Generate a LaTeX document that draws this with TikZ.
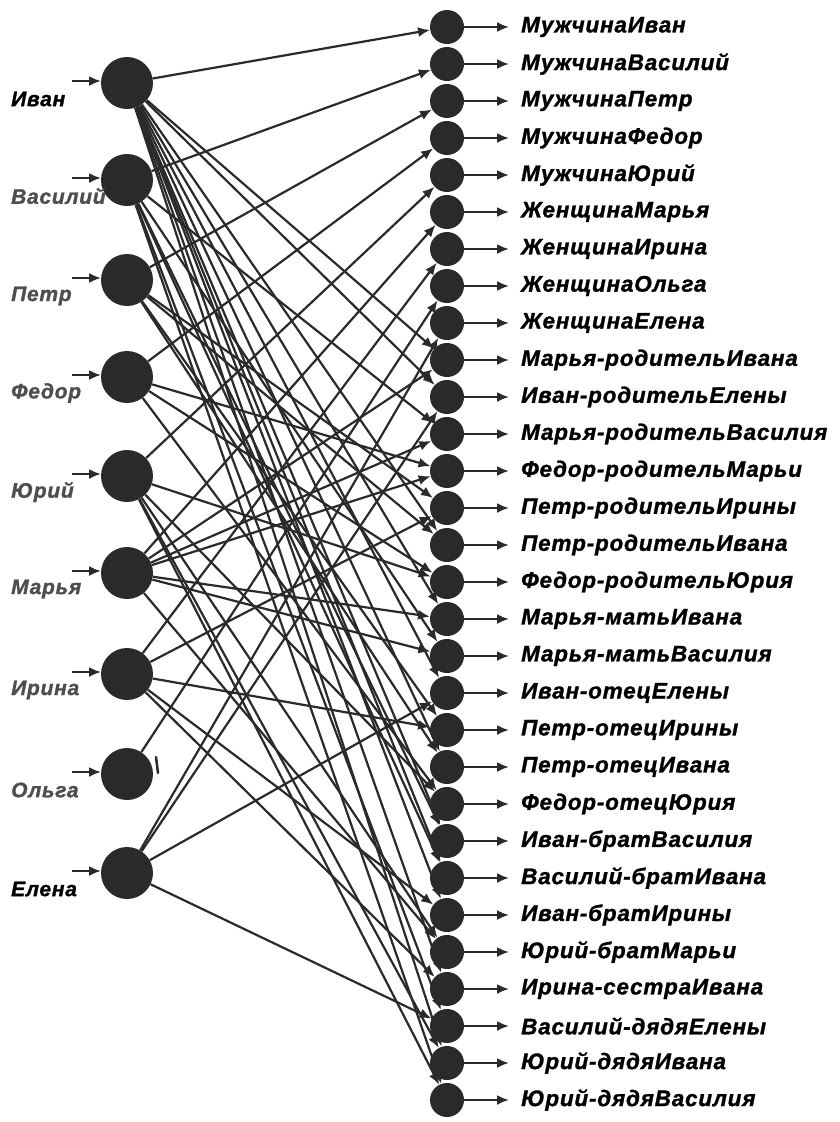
\documentclass[tikz,border=0pt]{standalone}
\usepackage{fontspec}
\setmainfont{Liberation Sans}
\newfontfamily\labfont[LetterSpace=3.5,FakeBold=1.2]{Liberation Sans}
\usetikzlibrary{arrows.meta}
\definecolor{ink}{HTML}{2A2A2A}
\definecolor{lab}{HTML}{4E4E4E}
\begin{document}
\begin{tikzpicture}[x=1pt,y=-1pt,
  bignode/.style={circle,fill=ink,minimum size=52pt,inner sep=0pt},
  smallnode/.style={circle,fill=ink,minimum size=34pt,inner sep=0pt},
  link/.style={draw=ink,line width=2.2pt,-{Latex[length=12pt,width=10pt]}},
  rlbl/.style={font=\labfont\fontsize{22.5}{24}\selectfont\bfseries\itshape,anchor=west,inner sep=0pt},
  llbl/.style={font=\labfont\fontsize{21}{23}\selectfont\bfseries\itshape,anchor=west,inner sep=0pt},
]
\useasboundingbox (0,0) rectangle (839,1122);

% left nodes
\foreach \i/\y/\name/\col in {1/83/Иван/black,2/180/Василий/lab,3/280/Петр/lab,4/377/Федор/lab,5/476/Юрий/lab,6/573/Марья/lab,7/674/Ирина/lab,8/774/Ольга/lab,9/873/Елена/black}{
  \node[bignode] (L\i) at (127,\y) {};
  \coordinate (in\i) at (72,\y-2);
  \draw[link] (in\i) -- (101,\y-2);
  \node[llbl,text=\col] (ln\i) at (11,\y+16) {\name};
}

% right nodes
\foreach \i/\txt in {1/МужчинаИван,2/МужчинаВасилий,3/МужчинаПетр,4/МужчинаФедор,5/МужчинаЮрий,
  6/ЖенщинаМарья,7/ЖенщинаИрина,8/ЖенщинаОльга,9/ЖенщинаЕлена,
  10/Марья-родительИвана,11/Иван-родительЕлены,12/Марья-родительВасилия,13/Федор-родительМарьи,
  14/Петр-родительИрины,15/Петр-родительИвана,16/Федор-родительЮрия,
  17/Марья-матьИвана,18/Марья-матьВасилия,19/Иван-отецЕлены,20/Петр-отецИрины,21/Петр-отецИвана,22/Федор-отецЮрия,
  23/Иван-братВасилия,24/Василий-братИвана,25/Иван-братИрины,26/Юрий-братМарьи,27/Ирина-сестраИвана,
  28/Василий-дядяЕлены,29/Юрий-дядяИвана,30/Юрий-дядяВасилия}{
  \node[smallnode] (R\i) at (447,{27+(\i-1)*37}) {};
  \coordinate (o\i) at (509,{27+(\i-1)*37});
  \draw[link] (R\i) -- (o\i);
  \node[rlbl] (rn\i) at (521,{27+(\i-1)*37}) {\txt};
}

% connections
\foreach \s/\ts in {1/{1,10,11,15,17,19,21,23,24,25,27,29},
  2/{2,12,18,23,24,28,30},
  3/{3,14,15,20,21},
  4/{4,13,16,22},
  5/{5,16,22,26,29,30},
  6/{6,10,12,13,17,18,26},
  7/{7,14,20,25,27},
  8/{8},
  9/{9,11,19,28}}{
  \foreach \t in \ts {
    \draw[link] (L\s) -- (R\t);
  }
}

% stray mark near Ольга
\draw[ink,line width=2.5pt,line cap=round] (156,757) -- (158,773);
\end{tikzpicture}
\end{document}
